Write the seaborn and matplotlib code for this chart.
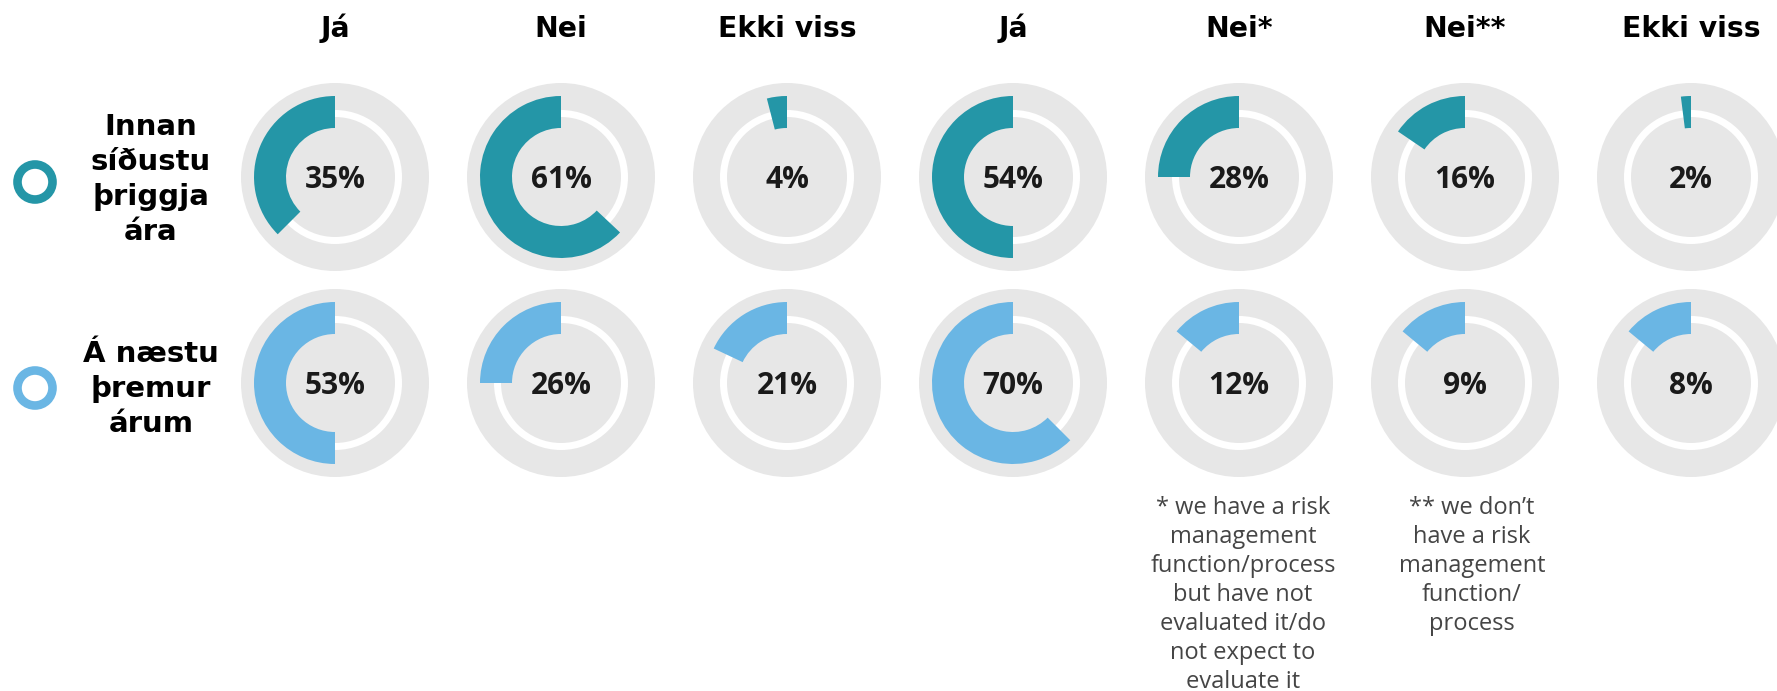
import numpy as np
import pandas as pd
import matplotlib.pyplot as plt
from matplotlib.patches import Circle
import seaborn as sns

sns.set_theme(style='white')

# data
columns = ['Já', 'Nei', 'Ekki viss', 'Já', 'Nei*', 'Nei**', 'Ekki viss']
row_labels = [['Innan', 'síðustu', 'þriggja', 'ára'],
              ['Á næstu', 'þremur', 'árum']]
# printed labels
last_3_years = [35, 61, 4, 54, 28, 16, 2]
next_3_years = [53, 26, 21, 70, 12, 9, 8]
# arc length as drawn in the original graphic (share of full circle, %)
arc_last_3_years = [37.5, 63, 4, 50, 25, 15.5, 2]
arc_next_3_years = [50, 25, 18, 62.5, 14, 14, 14]
footnote_1 = ['* we have a risk', 'management', 'function/process', 'but have not',
              'evaluated it/do', 'not expect to', 'evaluate it']
footnote_2 = ['** we don\u2019t', 'have a risk', 'management', 'function/', 'process']

teal = '#2496a7'
light_blue = '#6ab6e4'
gray = '#e7e7e7'

W, H = 1777, 691
fig = plt.figure(figsize=(W / 100, H / 100), dpi=100)
ax = fig.add_axes([0, 0, 1, 1])

x0, dx = 335, 226
row_y = [177, 383]

series = [(last_3_years, arc_last_3_years, teal),
          (next_3_years, arc_next_3_years, light_blue)]

for r, (vals, arcs, color) in enumerate(series):
    cy = H - row_y[r]
    for c, (v, a) in enumerate(zip(vals, arcs)):
        cx = x0 + c * dx
        # background rings
        ax.add_patch(Circle((cx, cy), 94, color=gray, lw=0))
        ax.add_patch(Circle((cx, cy), 67, color='white', lw=0))
        ax.add_patch(Circle((cx, cy), 60, color=gray, lw=0))
        ax.pie([a, 100 - a], radius=81, center=(cx, cy), startangle=90,
               counterclock=True, colors=[color, 'none'],
               wedgeprops=dict(width=32, linewidth=0, edgecolor='none'))
        ax.text(cx, cy - 10.5, f'{v}%', ha='center', va='baseline',
                fontsize=21.5, fontweight='bold', family='Open Sans', color='#1a1a1a')

    # legend ring
    ax.add_patch(Circle((35, H - (row_y[r] + 5)), 17.5, fill=False, ec=color, lw=6.2))

# column headers
for c, name in enumerate(columns):
    ax.text(x0 + c * dx, H - 37, name, ha='center', va='baseline',
            fontsize=20.3, fontweight='bold', family='DejaVu Sans', color='black')

# row labels
row_first_baseline = [135, 362]
for r, lines in enumerate(row_labels):
    for i, line in enumerate(lines):
        ax.text(151, H - (row_first_baseline[r] + 35 * i), line, ha='center', va='baseline',
                fontsize=21, fontweight='bold', family='DejaVu Sans', color='black')

# footnotes
for fx, lines in [(1243, footnote_1), (1472, footnote_2)]:
    for i, line in enumerate(lines):
        ax.text(fx, H - (514 + 29 * i), line, ha='center', va='baseline',
                fontsize=17, family='Open Sans', color='#454545')

ax.set_xlim(0, W)
ax.set_ylim(0, H)
ax.set_aspect('equal')
ax.axis('off')

fig.savefig('out.png', dpi=100)
